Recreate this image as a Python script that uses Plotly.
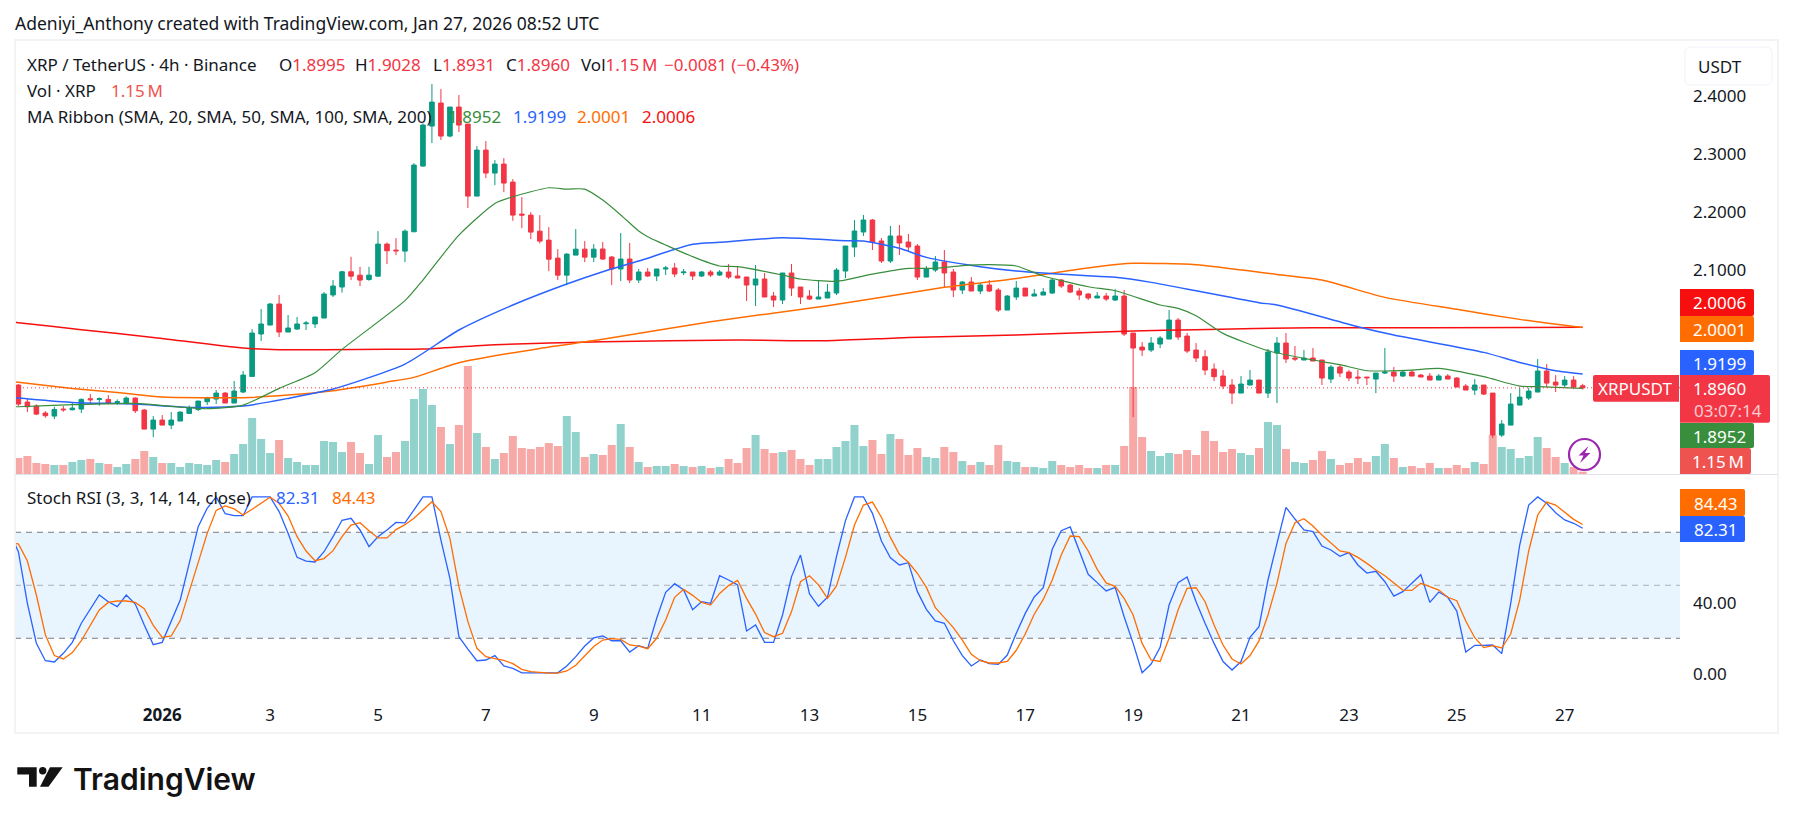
import pandas as pd
import plotly.graph_objects as go

# XRP/USDT 4h candles
opens = [
    1.9008,1.8714,1.8645,1.8524,1.8472,1.8593,1.8581,1.8593,1.8771,1.8760,
    1.8760,1.8708,1.8697,1.8783,1.8576,1.8247,1.8403,1.8316,1.8386,1.8518,
    1.8587,1.8720,1.8766,1.8869,1.8697,1.8887,1.9157,1.9889,2.0044,2.0407,
    1.9923,1.9975,2.0067,2.0062,2.0165,2.0563,2.0701,2.0964,2.0906,2.0831,
    2.0889,2.1442,2.1338,2.1321,2.1655,2.2790,2.3481,2.3878,2.3308,2.3809,
    2.3515,2.2271,2.3066,2.2669,2.2824,2.2513,2.1960,2.1943,2.1666,2.1511,
    2.1200,2.0906,2.1252,2.1355,2.1217,2.1357,2.1219,2.1012,2.1184,2.0822,
    2.0960,2.0891,2.1012,2.1029,2.0948,2.0960,2.0891,2.0960,2.0908,2.0960,
    2.0891,2.0873,2.0735,2.0839,2.0545,2.0476,2.0943,2.0701,2.0545,2.0493,
    2.0511,2.0597,2.0977,2.1392,2.1651,2.1858,2.1496,2.1150,2.1582,2.1478,
    2.1409,2.0873,2.0994,2.1133,2.0960,2.0649,2.0787,2.0632,2.0735,2.0649,
    2.0303,2.0528,2.0683,2.0545,2.0562,2.0597,2.0822,2.0735,2.0632,2.0580,
    2.0511,2.0545,2.0476,2.0545,1.9906,1.9664,1.9612,1.9716,1.9802,2.0130,
    1.9854,1.9612,1.9497,1.9284,1.9163,1.9008,1.8869,1.9008,1.9094,1.8869,
    1.9561,1.9733,1.9474,1.9440,1.9474,1.9440,1.9111,1.9319,1.9232,1.9146,
    1.9146,1.9111,1.9215,1.9232,1.9163,1.9232,1.9180,1.9163,1.9094,1.9163,
    1.9129,1.8990,1.8921,1.9008,1.8869,1.8144,1.8316,1.8662,1.8783,1.8887,
    1.9250,1.9059,1.9008,1.9094,1.8995,
]
highs = [
    1.9025,1.8777,1.8674,1.8558,1.8633,1.8645,1.8702,1.8777,1.8852,1.8794,
    1.8835,1.8760,1.8812,1.8794,1.8593,1.8472,1.8489,1.8541,1.8553,1.8656,
    1.8737,1.8806,1.8921,1.8887,1.9077,1.9250,1.9975,2.0321,2.0425,2.0563,
    2.0217,2.0183,2.0114,2.0183,2.0615,2.0822,2.0981,2.1223,2.1050,2.1050,
    2.1666,2.1470,2.1545,2.1695,2.2841,2.3527,2.4206,2.4120,2.3809,2.4016,
    2.3515,2.3135,2.3222,2.2893,2.2928,2.2565,2.2254,2.1995,2.1943,2.1735,
    2.1355,2.1286,2.1701,2.1494,2.1442,2.1478,2.1236,2.1634,2.1461,2.1012,
    2.1029,2.1012,2.1064,2.1115,2.1012,2.0960,2.0977,2.0994,2.0994,2.1098,
    2.1046,2.0873,2.1081,2.0943,2.0614,2.0943,2.1098,2.0701,2.0649,2.0822,
    2.0752,2.1029,2.1409,2.1858,2.1945,2.1876,2.1547,2.1755,2.1772,2.1616,
    2.1444,2.1064,2.1236,2.1340,2.1012,2.0804,2.0873,2.0770,2.0822,2.0683,
    2.0562,2.0804,2.0683,2.0666,2.0683,2.0839,2.0839,2.0752,2.0683,2.0597,
    2.0614,2.0597,2.0666,2.0649,1.9906,1.9750,1.9837,1.9854,2.0303,2.0165,
    1.9906,1.9733,1.9612,1.9382,1.9267,1.9111,1.9163,1.9267,1.9094,1.9630,
    1.9837,1.9906,1.9682,1.9612,1.9647,1.9440,1.9353,1.9353,1.9267,1.9267,
    1.9146,1.9215,1.9647,1.9319,1.9267,1.9267,1.9198,1.9215,1.9198,1.9198,
    1.9146,1.9025,1.9111,1.9008,1.8869,1.8403,1.8869,1.8956,1.8956,1.9457,
    1.9370,1.9180,1.9163,1.9163,1.9028,
]
lows = [
    1.8645,1.8541,1.8489,1.8443,1.8420,1.8547,1.8570,1.8524,1.8679,1.8650,
    1.8674,1.8668,1.8674,1.8524,1.8247,1.8109,1.8316,1.8247,1.8386,1.8506,
    1.8558,1.8662,1.8679,1.8697,1.8697,1.8869,1.9146,1.9768,2.0044,1.9837,
    1.9923,1.9958,1.9958,1.9993,2.0165,2.0528,2.0603,2.0820,2.0716,2.0808,
    2.0877,2.1096,2.1252,2.1131,2.1655,2.2778,2.3187,2.3239,2.3285,2.3377,
    2.2064,2.2271,2.2582,2.2461,2.2340,2.1845,2.1718,2.1528,2.1453,2.0975,
    2.0820,2.0733,2.1252,2.1131,2.1131,2.1167,2.0735,2.0804,2.0770,2.0770,
    2.0873,2.0804,2.0908,2.0873,2.0908,2.0822,2.0873,2.0873,2.0891,2.0839,
    2.0856,2.0459,2.0372,2.0528,2.0355,2.0407,2.0545,2.0407,2.0476,2.0493,
    2.0511,2.0562,2.0856,2.1219,2.1582,2.1340,2.1115,2.1115,2.1254,2.1323,
    2.0822,2.0873,2.0960,2.0701,2.0528,2.0580,2.0632,2.0580,2.0614,2.0269,
    2.0303,2.0476,2.0545,2.0545,2.0562,2.0580,2.0683,2.0597,2.0476,2.0476,
    2.0511,2.0459,2.0459,1.9854,1.8454,1.9508,1.9577,1.9647,1.9802,1.9785,
    1.9560,1.9405,1.9180,1.9077,1.8938,1.8679,1.8869,1.9008,1.8869,1.8783,
    1.8697,1.9388,1.9422,1.9440,1.9422,1.9008,1.9042,1.9146,1.9077,1.9025,
    1.9008,1.8869,1.9198,1.9059,1.9146,1.9163,1.9146,1.9094,1.9094,1.9111,
    1.8973,1.8921,1.8835,1.8835,1.8092,1.8109,1.8316,1.8662,1.8748,1.8887,
    1.8973,1.8887,1.8973,1.8938,1.8931,
]
closes = [
    1.8679,1.8633,1.8506,1.8478,1.8587,1.8581,1.8610,1.8760,1.8754,1.8771,
    1.8697,1.8720,1.8783,1.8564,1.8247,1.8403,1.8316,1.8403,1.8541,1.8610,
    1.8731,1.8789,1.8869,1.8697,1.8904,1.9180,1.9906,2.0062,2.0407,1.9923,
    1.9993,2.0062,2.0079,2.0183,2.0580,2.0718,2.0964,2.0889,2.0820,2.0906,
    2.1442,2.1326,2.1326,2.1666,2.2807,2.3498,2.3895,2.3308,2.3809,2.3498,
    2.2271,2.3066,2.2669,2.2824,2.2496,2.1943,2.1943,2.1649,2.1494,2.1182,
    2.0906,2.1269,2.1355,2.1217,2.1355,2.1184,2.1012,2.1184,2.0822,2.0960,
    2.0891,2.1012,2.1029,2.0925,2.0960,2.0891,2.0960,2.0908,2.0960,2.0873,
    2.0856,2.0735,2.0839,2.0528,2.0476,2.0943,2.0683,2.0528,2.0493,2.0528,
    2.0614,2.0994,2.1409,2.1668,2.1858,2.1478,2.1150,2.1582,2.1461,2.1392,
    2.0873,2.1012,2.1133,2.0943,2.0649,2.0787,2.0632,2.0735,2.0632,2.0303,
    2.0545,2.0683,2.0545,2.0580,2.0614,2.0822,2.0718,2.0614,2.0562,2.0511,
    2.0545,2.0493,2.0545,1.9888,1.9647,1.9612,1.9733,1.9819,2.0130,1.9837,
    1.9595,1.9474,1.9267,1.9152,1.8990,1.8869,1.9025,1.9094,1.8869,1.9578,
    1.9733,1.9457,1.9457,1.9474,1.9422,1.9129,1.9319,1.9215,1.9129,1.9129,
    1.9134,1.9215,1.9232,1.9163,1.9232,1.9163,1.9146,1.9094,1.9163,1.9111,
    1.8973,1.8921,1.9008,1.8852,1.8144,1.8334,1.8679,1.8800,1.8904,1.9250,
    1.9042,1.9008,1.9094,1.8973,1.8960,
]

# Volume per bar, in millions of XRP, with its up/down colouring
volumes = [
    7.89,8.87,5.42,4.93,4.44,4.44,5.92,6.90,7.39,5.42,
    4.93,3.45,4.93,7.39,11.34,8.38,5.42,5.42,3.45,5.42,
    4.93,4.44,6.90,5.92,9.86,14.79,27.60,17.25,10.35,16.76,
    7.89,5.92,4.44,4.44,16.26,15.77,10.84,15.77,10.35,4.93,
    19.22,8.38,10.84,16.26,36.96,41.90,34.00,23.16,14.79,24.15,
    53.20,20.21,13.31,7.39,10.35,18.73,12.81,12.32,13.31,15.28,
    13.80,28.58,20.70,8.38,9.86,9.37,14.29,24.64,13.31,5.92,
    3.45,3.94,3.94,4.93,3.94,3.45,3.94,2.96,3.45,7.39,
    5.42,12.81,19.22,12.32,10.35,10.84,11.83,7.39,4.44,7.39,
    7.39,13.31,16.26,24.15,13.80,16.76,9.86,19.71,17.25,9.37,
    12.81,8.38,7.89,13.31,10.84,6.41,4.44,5.92,4.44,14.29,
    6.41,5.92,3.45,3.45,2.96,6.41,4.44,3.45,4.44,2.96,
    2.96,4.44,4.44,13.80,42.90,18.24,11.34,8.87,10.35,9.86,
    11.83,9.37,21.19,16.26,10.84,12.32,10.35,9.37,12.81,25.63,
    24.15,12.32,5.92,5.42,6.90,11.34,7.39,4.44,5.42,7.89,
    5.92,8.87,14.79,7.89,3.45,3.94,2.96,5.42,2.96,2.96,
    4.44,2.96,5.92,4.93,19.22,13.31,12.32,7.89,8.87,18.24,
    12.81,8.38,5.42,3.45,1.15,
]
volume_dirs = (
    "ddddu duudu duudd uduuu uuudu uuuud uuuuu uuddu udduu uudud "
    "dudud ddddd duudu ddudu duudu dudud ddudd udddu uuuuu ddudd "
    "duudd ududd uuduu udddd ududd duuud ddddd duudu uduud duddd "
    "duudu dddud ddudd uuuuu ddudd"
).replace(" ", "")

# Stochastic RSI lines; the first value belongs to the bar just left of the window
stoch_k = [
    80.2,
    69.0,39.8,17.1,7.3,6.6,11.5,17.7,28.5,36.4,44.5,
    40.7,37.9,44.5,39.4,27.5,16.4,17.7,30.0,41.7,62.4,
    83.2,93.6,100,90.5,89.4,89.4,100,100,100,91.7,
    79.4,65.8,63.7,63.2,69.0,77.5,86.8,87.9,81.3,71.9,
    77.5,81.3,85.6,85.3,92.6,100,100,75.6,53.9,20.9,
    13.9,7.3,7.7,10.2,4.3,3.0,0.4,0.4,0.4,0.4,
    0.4,4.3,9.6,15.6,20.2,21.3,18.6,18.6,12.2,15.8,
    14.3,31.3,46.0,50.9,47.3,36.2,40.7,39.8,55.4,53.0,
    50.2,24.1,27.5,17.7,17.7,33.2,54.9,67.1,45.1,38.1,
    43.2,66.2,86.6,100,100,90.7,75.1,65.6,61.5,62.8,
    46.4,36.4,29.8,28.5,18.6,10.2,4.3,7.7,5.6,5.2,
    10.5,22.8,34.1,43.4,48.6,70.4,80.9,83.0,69.6,56.2,
    51.5,46.8,48.8,32.2,17.1,0.5,5.4,14.9,38.8,51.5,
    54.7,40.7,28.5,17.1,6.8,2.0,6.8,20.5,26.6,53.0,
    73.7,94.1,87.5,81.3,80.4,72.2,70.0,66.4,68.5,61.5,
    56.9,57.9,52.0,43.9,46.4,51.5,56.0,40.3,46.2,43.2,
    35.4,12.2,16.0,16.0,16.2,11.3,39.8,72.8,95.4,100,
    96.4,91.1,87.0,85.1,82.31,
]
stoch_d = [
    73.8,
    73.4,63.7,44.5,21.9,10.2,8.3,11.9,18.6,27.1,36.0,
    40.3,41.1,41.1,40.3,36.8,27.3,20.5,21.3,30.0,46.4,
    63.0,79.4,92.4,94.9,93.2,89.8,93.0,96.4,99.8,96.4,
    89.2,77.5,69.4,63.9,65.1,69.6,77.5,84.1,85.4,80.9,
    76.8,76.8,81.5,84.3,87.9,92.6,97.3,91.7,76.6,49.2,
    29.4,14.3,9.6,8.5,7.5,5.6,2.4,1.1,0.5,0.3,
    0.3,1.5,4.7,10.0,15.3,19.0,19.8,19.4,16.2,15.6,
    14.1,20.0,30.3,43.2,47.7,44.3,40.3,38.8,45.4,49.8,
    52.8,42.6,33.7,23.2,20.9,22.8,35.1,52.0,55.4,50.2,
    42.6,49.6,65.8,84.1,95.4,97.1,88.5,77.1,67.5,63.0,
    56.8,48.8,37.3,31.7,26.0,19.0,10.9,7.3,6.0,6.0,
    6.9,13.2,22.4,33.6,42.0,53.0,67.1,77.9,77.5,69.4,
    59.0,51.3,49.4,42.6,33.2,17.1,7.7,6.9,20.0,36.0,
    48.3,48.6,40.7,27.5,16.2,8.3,5.4,10.2,18.5,33.2,
    51.1,73.7,85.4,87.7,83.6,78.5,74.1,69.4,68.5,65.8,
    62.4,58.6,55.4,51.1,47.3,47.1,51.1,49.2,47.3,43.2,
    41.3,29.8,20.3,14.7,15.8,14.5,22.4,41.7,69.4,89.8,
    97.1,95.4,91.1,87.3,84.43,
]

# MA Ribbon: each average is kept at the bars where it was sampled (-1 is left of the window)
sma20_bars = [-1,0,6,13,18,21,25,29,33,36,43,45,49,53,55,59,61,63,65,67,69,70,75,78,80,85,87,91,95,99,102,105,108,111,114,119,122,127,129,131,134,139,144,147,150,155,158,163,167,169,174]
sma20 = [1.8633,1.8633,1.8668,1.8691,1.8627,1.8599,1.8662,1.8950,1.9221,1.9624,2.0465,2.0822,2.1597,2.2144,2.2260,2.2415,2.2392,2.2392,2.2202,2.1945,2.1668,2.1570,2.1225,2.1064,2.1052,2.0908,2.0839,2.0799,2.0925,2.1023,2.1023,2.1069,2.1087,2.1064,2.0891,2.0706,2.0637,2.0390,2.0332,2.0205,1.9900,1.9601,1.9440,1.9359,1.9255,1.9267,1.9296,1.9152,1.8990,1.8979,1.8952]
sma50_bars = [-1,0,6,13,19,25,30,35,43,49,55,61,65,69,75,78,85,92,94,98,101,107,111,118,122,126,131,138,140,149,153,163,167,171,174]
sma50 = [1.8795,1.8783,1.8708,1.8679,1.8622,1.8645,1.8777,1.8938,1.9370,1.9958,2.0390,2.0753,2.0966,2.1150,2.1438,2.1472,2.1553,2.1501,2.1496,2.1369,2.1213,2.1052,2.0977,2.0902,2.0868,2.0781,2.0637,2.0430,2.0390,2.0016,1.9872,1.9572,1.9399,1.9255,1.9199]
sma100_bars = [-1,0,6,11,16,21,25,30,35,41,44,49,58,65,77,90,103,111,120,124,131,140,145,152,160,167,174]
sma100 = [1.9072,1.9054,1.8950,1.8881,1.8800,1.8789,1.8789,1.8835,1.8910,1.9059,1.9140,1.9394,1.9641,1.9797,2.0102,2.0378,2.0695,2.0850,2.1052,2.1110,2.1087,2.0919,2.0822,2.0522,2.0315,2.0142,2.0001]
sma200_bars = [-1,0,7,15,25,29,34,41,45,53,65,80,90,99,111,124,131,144,157,174]
sma200 = [2.0105,2.0085,1.9964,1.9831,1.9647,1.9618,1.9618,1.9624,1.9630,1.9705,1.9756,1.9785,1.9773,1.9831,1.9871,1.9940,1.9964,1.9998,1.9998,2.0006]

# Axis labels
tick_dates = ["2026-01-01","2026-01-03","2026-01-05","2026-01-07","2026-01-09","2026-01-11","2026-01-13","2026-01-15","2026-01-17","2026-01-19","2026-01-21","2026-01-23","2026-01-25","2026-01-27"]
tick_labels = ["<b>2026</b>","3","5","7","9","11","13","15","17","19","21","23","25","27"]
price_ticks = [2.1, 2.2, 2.3, 2.4]
stoch_ticks = [0, 40]

UP = "#089981"
DOWN = "#F23645"
GREEN = "#388E3C"
BLUE = "#2962FF"
ORANGE = "#FF6D00"
RED = "#F70F0F"
VOL_DOWN = "#EF5350"
INK = "#131722"
FONT = "Noto Sans"
BAR_HOURS = 4

bar_times = pd.date_range("2025-12-29 08:00", periods=len(closes), freq=f"{BAR_HOURS}h")
line_times = pd.date_range("2025-12-29 04:00", periods=len(closes) + 1, freq=f"{BAR_HOURS}h")
at = lambda bars: [line_times[i + 1] for i in bars]

# Page layout in pixels; the plot box runs from (15, 40) to (1680, 733)
W, H = 1793, 824
L, R, T, B = 15, 1680, 40, 733
px = lambda x: (x - L) / (R - L)
py = lambda y: (B - y) / (B - T)

fig = go.Figure()

fig.add_bar(
    x=bar_times, y=volumes, yaxis="y", xaxis="x",
    marker=dict(
        color=[("rgba(38,166,154,0.5)" if d == "u" else "rgba(239,83,80,0.5)") for d in volume_dirs],
        line_width=0,
    ),
)
for bars, values, colour, width in [
    (sma200_bars, sma200, RED, 1.5),
    (sma100_bars, sma100, ORANGE, 1.5),
    (sma50_bars, sma50, BLUE, 1.5),
    (sma20_bars, sma20, GREEN, 1.2),
]:
    fig.add_scatter(
        x=at(bars), y=values, yaxis="y2", xaxis="x", mode="lines",
        line=dict(color=colour, width=width, shape="spline", smoothing=0.6),
    )
fig.add_candlestick(
    x=bar_times, open=opens, high=highs, low=lows, close=closes, yaxis="y2", xaxis="x",
    increasing=dict(line=dict(color=UP, width=1), fillcolor=UP),
    decreasing=dict(line=dict(color=DOWN, width=1), fillcolor=DOWN),
    whiskerwidth=0,
)
fig.add_scatter(x=line_times, y=stoch_k, yaxis="y3", xaxis="x", mode="lines", line=dict(color=BLUE, width=1.3))
fig.add_scatter(x=line_times, y=stoch_d, yaxis="y3", xaxis="x", mode="lines", line=dict(color=ORANGE, width=1.3))


def rounded(x0, y0, x1, y1, left=0, right=0):
    """Path of a box with optional rounded left and right corners, in page pixels."""
    p = lambda x, y: f"{px(x):.5f},{py(y):.5f}"
    return (
        f"M{p(x0 + left, y0)} L{p(x1 - right, y0)} Q{p(x1, y0)} {p(x1, y0 + right)} "
        f"L{p(x1, y1 - right)} Q{p(x1, y1)} {p(x1 - right, y1)} L{p(x0 + left, y1)} "
        f"Q{p(x0, y1)} {p(x0, y1 - left)} L{p(x0, y0 + left)} Q{p(x0, y0)} {p(x0 + left, y0)} Z"
    )


shapes = []


def box(x0, y0, x1, y1, fill, left=0, right=2, line=None, line_width=0):
    shapes.append(dict(
        type="path", xref="paper", yref="paper", path=rounded(x0, y0, x1, y1, left, right),
        fillcolor=fill, line=dict(color=line or fill, width=line_width),
    ))


# Stochastic band and guide levels
shapes.append(dict(type="rect", xref="x domain", yref="y3", x0=0, x1=1, y0=20, y1=80,
                   fillcolor="rgba(33,150,243,0.1)", line_width=0, layer="below"))
for level, colour in [(80, "#787B86"), (50, "rgba(120,123,134,0.55)"), (20, "#787B86")]:
    shapes.append(dict(type="line", xref="x domain", yref="y3", x0=0, x1=1, y0=level, y1=level,
                       line=dict(color=colour, width=1, dash="6px,5px"), layer="below"))
# Last-price guide
shapes.append(dict(type="line", xref="x domain", yref="y2", x0=0, x1=1, y0=closes[-1], y1=closes[-1],
                   line=dict(color=DOWN, width=1, dash="1px,3px")))
# Chart frame and pane separator
shapes.append(dict(type="rect", xref="paper", yref="paper", x0=px(15), x1=px(1778), y0=py(40), y1=py(733),
                   line=dict(color="#F2F3F5", width=2)))
shapes.append(dict(type="line", xref="paper", yref="paper", x0=px(15), x1=px(1778), y0=py(474.5), y1=py(474.5),
                   line=dict(color="#E0E3EB", width=1)))

# Scale badges
box(1680, 289, 1754, 316, RED)
box(1680, 316, 1754, 342, ORANGE)
box(1680, 350, 1754, 375, BLUE)
box(1680, 423, 1754, 448, GREEN)
box(1680, 448, 1751, 474, VOL_DOWN)
box(1593, 375, 1679, 401.7, DOWN, left=2, right=0)
box(1680, 375, 1770, 422.7, DOWN)
box(1680, 489, 1745, 516, ORANGE)
box(1680, 516, 1745, 542, BLUE)
box(1685, 47, 1772, 85, "#FFFFFF", left=6, right=6, line="#F0F3FA", line_width=1)

# Lightning badge on the volume pane
shapes.append(dict(type="circle", xref="paper", yref="paper",
                   x0=px(1569), x1=px(1600), y0=py(439), y1=py(470),
                   fillcolor="rgba(255,255,255,0.9)", line=dict(color="#9C27B0", width=2.2)))
bolt = [(1588.5, 446), (1578.5, 455.5), (1583.5, 455.5), (1580, 463), (1590.5, 453), (1585, 453)]
shapes.append(dict(type="path", xref="paper", yref="paper",
                   path="M" + " L".join(f"{px(x):.5f},{py(y):.5f}" for x, y in bolt) + " Z",
                   fillcolor="#9C27B0", line_width=0))

# TradingView mark
mark = [
    [(17.3, 767.3), (36.7, 767.3), (36.7, 786.7), (29, 786.7), (29, 774.5), (17.3, 774.5)],
    [(50, 767.3), (62.7, 767.3), (48.5, 786.7), (40, 786.7)],
]
for poly in mark:
    shapes.append(dict(type="path", xref="paper", yref="paper",
                       path="M" + " L".join(f"{px(x):.5f},{py(y):.5f}" for x, y in poly) + " Z",
                       fillcolor="#131313", line_width=0))
shapes.append(dict(type="circle", xref="paper", yref="paper",
                   x0=px(39), x1=px(46.4), y0=py(767), y1=py(774.4), fillcolor="#131313", line_width=0))

annotations = []
TEXT = 17


def label(x, y, text, colour=INK, size=TEXT, anchor="left", weight=None, font=FONT):
    f = dict(family=font, size=size, color=colour)
    if weight:
        f["weight"] = weight
    annotations.append(dict(
        xref="paper", yref="paper", x=px(x), y=py(y), text=text, showarrow=False,
        xanchor=anchor, yanchor="middle", font=f, borderpad=0, borderwidth=0,
    ))


label(15, 23, "Adeniyi_Anthony created with TradingView.com, Jan 27, 2026 08:52 UTC", size=17.5)

label(27, 64, "XRP / TetherUS · 4h · Binance")
label(279, 64, f'O<span style="color:{DOWN}">1.8995</span>')
label(355, 64, f'H<span style="color:{DOWN}">1.9028</span>')
label(432.5, 64, f'L<span style="color:{DOWN}">1.8931</span>')
label(506, 64, f'C<span style="color:{DOWN}">1.8960</span>')
label(581, 64, f'Vol<span style="color:{DOWN}">1.15\u2009M</span>')
label(664, 64, "−0.0081 (−0.43%)", colour=DOWN)
label(27, 90, "Vol · XRP")
label(111, 90, "1.15\u2009M", colour=VOL_DOWN)
label(27, 116, "MA Ribbon (SMA, 20, SMA, 50, SMA, 100, SMA, 200)")
label(448, 116, "1.8952", colour=GREEN)
label(513, 116, "1.9199", colour=BLUE)
label(577, 116, "2.0001", colour=ORANGE)
label(642, 116, "2.0006", colour=RED)
label(27, 497, "Stoch RSI (3, 3, 14, 14, close)")
label(276, 497, "82.31", colour=BLUE)
label(332, 497, "84.43", colour=ORANGE)

label(1720, 303, "2.0006", colour="#FFFFFF", anchor="center")
label(1720, 329, "2.0001", colour="#FFFFFF", anchor="center")
label(1720, 363, "1.9199", colour="#FFFFFF", anchor="center")
label(1635, 388.5, "XRPUSDT", colour="#FFFFFF", anchor="center")
label(1720, 388.5, "1.8960", colour="#FFFFFF", anchor="center")
label(1728, 410, "03:07:14", colour="rgba(255,255,255,0.75)", anchor="center")
label(1720, 436, "1.8952", colour="#FFFFFF", anchor="center")
label(1718, 461, "1.15\u2009M", colour="#FFFFFF", anchor="center")
label(1715, 503, "84.43", colour="#FFFFFF", anchor="center")
label(1715, 529, "82.31", colour="#FFFFFF", anchor="center")
label(1720, 66, "USDT", anchor="center")
label(73, 779, "TradingView", colour="#131313", size=30, weight=600, font="Inter")

fig.update_layout(
    width=W, height=H, autosize=False,
    margin=dict(l=L, r=W - R, t=T, b=H - B, pad=0),
    paper_bgcolor="#FFFFFF", plot_bgcolor="#FFFFFF",
    showlegend=False, hovermode=False, dragmode=False,
    bargap=0.11, boxgap=0.27, boxmode="overlay",
    font=dict(family=FONT, color=INK, size=TEXT),
    shapes=shapes, annotations=annotations,
    xaxis=dict(
        anchor="y3", type="date",
        range=[bar_times[0] - pd.Timedelta(hours=BAR_HOURS * 0.378),
               bar_times[0] + pd.Timedelta(hours=BAR_HOURS * 184.83)],
        tickmode="array", tickvals=tick_dates, ticktext=tick_labels,
        showgrid=False, zeroline=False, showline=False, ticks="", ticklabelstandoff=3,
        rangeslider=dict(visible=False), tickfont=dict(size=TEXT, color=INK),
    ),
    # Volume sits on the base axis so that price is drawn over it
    yaxis=dict(domain=[py(474), 1], range=[0, 213.9], visible=False, fixedrange=True),
    yaxis2=dict(
        domain=[py(474), 1], overlaying="y", side="right", anchor="x",
        range=[2.4 - (474 - 96) / 579, 2.4 + (96 - 40) / 579],
        tickmode="array", tickvals=price_ticks, tickformat=".4f",
        showgrid=False, zeroline=False, showline=False, ticks="", ticklabelstandoff=12,
        tickfont=dict(size=TEXT, color=INK),
    ),
    yaxis3=dict(
        domain=[py(700), py(476)], side="right", anchor="x",
        range=[(673.6 - 700) / 1.7665, (673.6 - 476) / 1.7665],
        tickmode="array", tickvals=stoch_ticks, tickformat=".2f",
        showgrid=False, zeroline=False, showline=False, ticks="", ticklabelstandoff=12,
        tickfont=dict(size=TEXT, color=INK),
    ),
)

fig.write_html("out.html", config={"displayModeBar": False, "staticPlot": True})
